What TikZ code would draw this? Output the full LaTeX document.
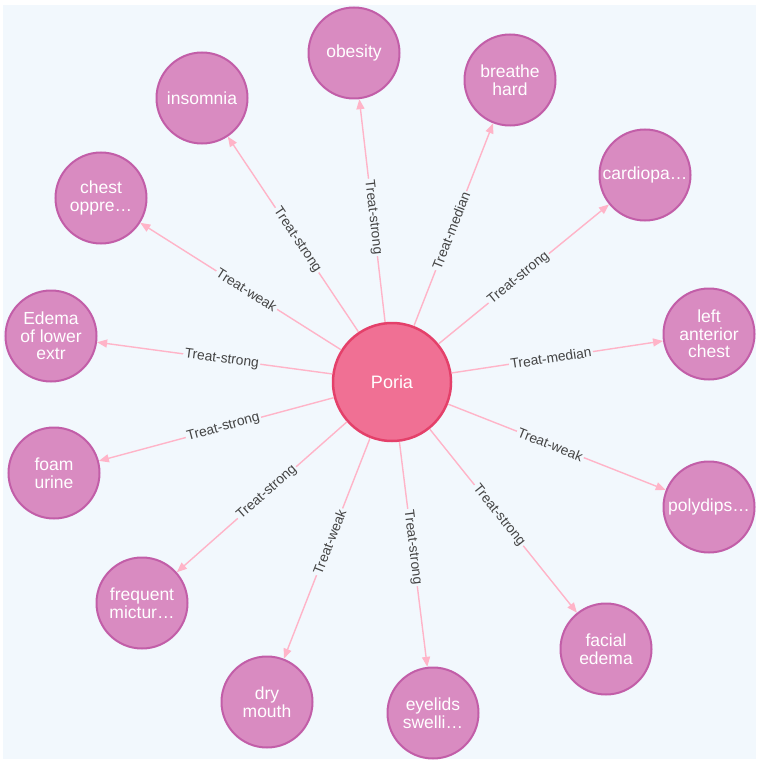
\documentclass[tikz,border=0pt]{standalone}
\usepackage{fontspec}
\setmainfont{Liberation Sans}
\usetikzlibrary{arrows.meta}
\definecolor{bg}{HTML}{F2F8FD}
\definecolor{ofill}{HTML}{D98BC1}
\definecolor{oline}{HTML}{C25EA8}
\definecolor{cfill}{HTML}{F07094}
\definecolor{cline}{HTML}{E4406A}
\definecolor{edgec}{HTML}{FFB4C8}
\definecolor{lblc}{HTML}{444444}
\begin{document}
\begin{tikzpicture}[x=1pt,y=-1pt,
 outer/.style={circle, draw=oline, fill=ofill, line width=2pt, minimum size=91pt, inner sep=0pt, text=white, font=\fontsize{17.5}{17.5}\selectfont, align=center},
 hub/.style={circle, draw=cline, fill=cfill, line width=2.5pt, minimum size=118pt, inner sep=0pt, text=white, font=\fontsize{18}{18}\selectfont},
 rel/.style={draw=edgec, line width=1.4pt, -{Triangle[length=10pt,width=8pt]}},
 lbl/.style={sloped, pos=0.47, fill=bg, inner sep=1.5pt, text=lblc, font=\fontsize{13.8}{14}\selectfont}
]
\useasboundingbox (0,0) rectangle (757,762);
\fill[white] (0,0) rectangle (757,762);
\fill[bg] (3,5) rectangle (756,759);

\node[hub] (P) at (392,382) {Poria};

\node[outer] (obesity)  at (354,53)  {obesity};
\node[outer] (breathe)  at (510,80)  {breathe\\hard};
\node[outer] (cardio)   at (645,175) {cardiopa…};
\node[outer] (lac)      at (709,334) {left\\anterior\\chest};
\node[outer] (poly)     at (709,507) {polydips…};
\node[outer] (facial)   at (606,649) {facial\\edema};
\node[outer] (eyelids)  at (433,713) {eyelids\\swelli…};
\node[outer] (dry)      at (267,702) {dry\\mouth};
\node[outer] (freq)     at (142,603) {frequent\\mictur…};
\node[outer] (foam)     at (54,473)  {foam\\urine};
\node[outer] (edema)    at (51,336)  {Edema\\of lower\\extr};
\node[outer] (chest)    at (101,198) {chest\\oppre…};
\node[outer] (insomnia) at (202,98)  {insomnia};

\draw[rel] (P) -- node[lbl] {Treat-strong} (obesity);
\draw[rel] (P) -- node[lbl] {Treat-median} (breathe);
\draw[rel] (P) -- node[lbl] {Treat-strong} (cardio);
\draw[rel] (P) -- node[lbl] {Treat-median} (lac);
\draw[rel] (P) -- node[lbl] {Treat-weak} (poly);
\draw[rel] (P) -- node[lbl] {Treat-strong} (facial);
\draw[rel] (P) -- node[lbl] {Treat-strong} (eyelids);
\draw[rel] (P) -- node[lbl] {Treat-weak} (dry);
\draw[rel] (P) -- node[lbl] {Treat-strong} (freq);
\draw[rel] (P) -- node[lbl] {Treat-strong} (foam);
\draw[rel] (P) -- node[lbl] {Treat-strong} (edema);
\draw[rel] (P) -- node[lbl] {Treat-weak} (chest);
\draw[rel] (P) -- node[lbl] {Treat-strong} (insomnia);
\end{tikzpicture}
\end{document}
